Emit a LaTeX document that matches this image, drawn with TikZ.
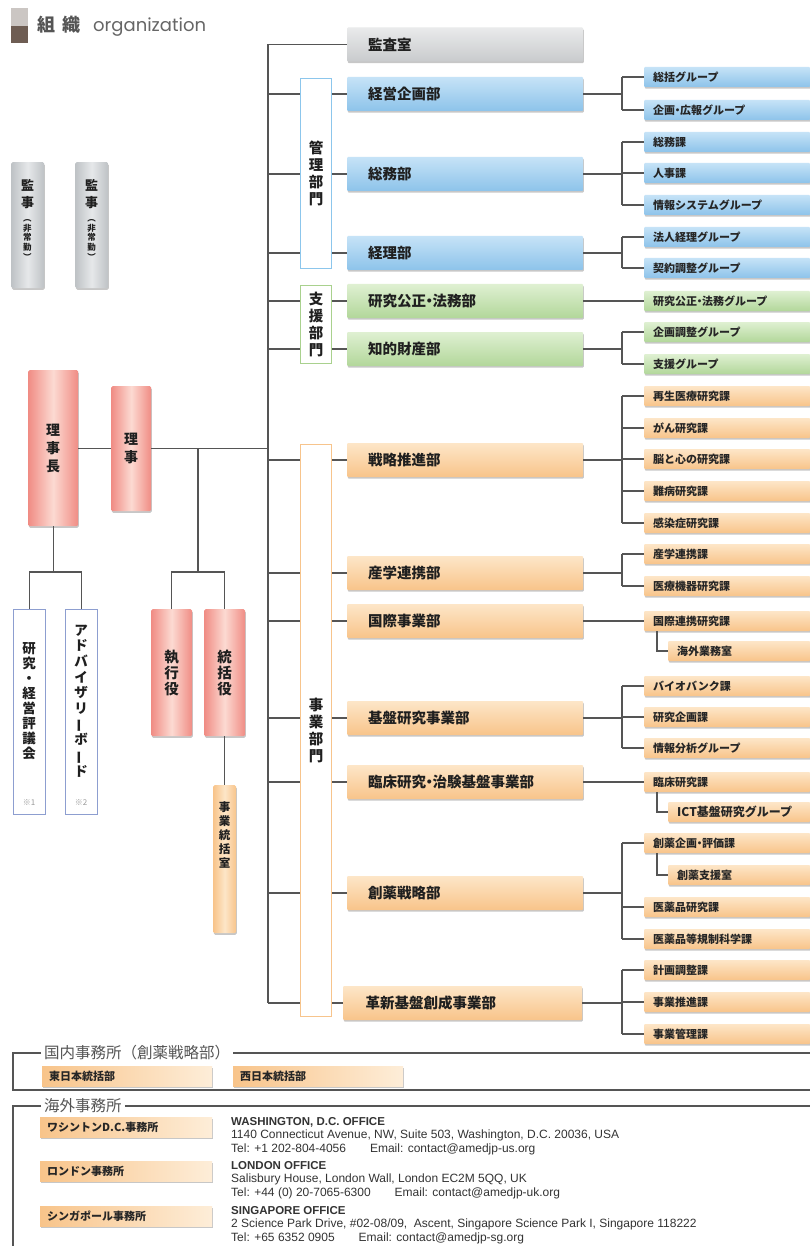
\documentclass[tikz,border=0pt]{standalone}
\usepackage{fontspec}
\usetikzlibrary{shadows}
\setmainfont{Noto Sans CJK JP}
\newfontfamily\jp{Noto Sans CJK JP}
\newfontfamily\geo{Poppins}
\newfontfamily\lat{Liberation Sans}
\newcommand\mdot{\kern-0.28em・\kern-0.28em}
\definecolor{linegray}{HTML}{555555}
\definecolor{bluetop}{HTML}{C6E3F7}
\definecolor{bluebot}{HTML}{8DC3EA}
\definecolor{greentop}{HTML}{DFF0D2}
\definecolor{greenbot}{HTML}{B2D79A}
\definecolor{orgtop}{HTML}{FDE6C8}
\definecolor{orgbot}{HTML}{F8C48A}
\definecolor{graytop}{HTML}{E9EAEB}
\definecolor{graybot}{HTML}{C9CBCD}
\definecolor{pinkedge}{HTML}{F08C84}
\definecolor{pinkmid}{HTML}{FCDAD2}
\definecolor{grayedge}{HTML}{BEC2C5}
\definecolor{graymid}{HTML}{E6E8EA}
\definecolor{bluelin}{HTML}{8CC6EC}
\definecolor{greenlin}{HTML}{A9D18E}
\definecolor{orglin}{HTML}{F7C48C}
\definecolor{purplin}{HTML}{8D9ED0}
\definecolor{txtgray}{HTML}{555555}
\definecolor{sqlight}{HTML}{CBC6C3}
\definecolor{sqdark}{HTML}{6E5D53}
\begin{document}
\begin{tikzpicture}[x=1pt,y=-1pt,
  conn/.style={draw=linegray, line width=1.2pt},
  frameline/.style={draw=linegray, line width=1.1pt},
  shad/.style={drop shadow={shadow xshift=0.6pt, shadow yshift=-1.6pt, opacity=0.22, fill=black}},
  dept/.style={shad, rounded corners=1pt, anchor=west, minimum height=34pt, text width=194pt, inner xsep=21pt, inner ysep=0pt, align=left, font=\jp\bfseries\fontsize{14.5}{16}\selectfont, text=black!88},
  grp/.style={shad, rounded corners=1pt, anchor=west, minimum height=20pt, text width=148pt, inner xsep=9pt, inner ysep=0pt, align=left, font=\jp\bfseries\fontsize{11}{12}\selectfont, text=black!85},
  subgrp/.style={grp, text width=124pt},
  bluefill/.style={top color=bluetop, bottom color=bluebot},
  greenfill/.style={top color=greentop, bottom color=greenbot},
  orgfill/.style={top color=orgtop, bottom color=orgbot},
  grayfill/.style={top color=graytop, bottom color=graybot},
  pillar/.style={shad, rounded corners=1.5pt, anchor=north west, inner sep=0pt, align=center, text=black!88},
  pinkp/.style={pillar, left color=pinkedge, right color=pinkedge, middle color=pinkmid},
  grayp/.style={pillar, left color=grayedge, right color=grayedge, middle color=graymid},
  orgp/.style={pillar, left color=orgbot, right color=orgbot, middle color=orgtop},
  outl/.style={anchor=north west, inner sep=0pt, fill=white, line width=1pt, align=center, text=black!88},
  vt/.style={inner sep=0pt, align=center, text=black!88},
  seclabel/.style={anchor=west, inner xsep=3pt, inner ysep=0pt, font=\jp\fontsize{15.5}{16}\selectfont, text=txtgray},
  offbox/.style={shad, anchor=west, minimum height=20pt, inner xsep=7pt, inner ysep=0pt, align=left, left color=orgbot, right color=orgtop!70!white, font=\jp\bfseries\fontsize{11}{12}\selectfont, text=black!85},
  addr/.style={anchor=north west, inner sep=0pt, align=left, font=\lat\fontsize{12}{13.7}\selectfont, text=black!80}
]
\useasboundingbox (0,0) rectangle (810,1246);
\fill[white] (0,0) rectangle (810,1246);

% header
\fill[sqlight] (11,8) rectangle (28,26);
\fill[sqdark] (11,26) rectangle (28,43);
\node[anchor=base west, inner sep=0pt, font=\jp\bfseries\fontsize{18}{19}\selectfont, text=txtgray] (hdrj) at (37,32) {組\hspace{7pt}織};
\node[anchor=base west, inner sep=0pt, font=\geo\fontsize{18}{20}\selectfont, text=black!60] (hdre) at (93,32) {organization};

% auditors
\node[grayp, minimum width=33pt, minimum height=126pt] (kanjiA) at (11,162) {};
\node[grayp, minimum width=33pt, minimum height=126pt] (kanjiB) at (75,162) {};
\node[vt, font=\jp\bfseries\fontsize{13}{16.5}\selectfont] (kanjiAt) at (27.5,194) {監\\事};
\node[vt, font=\jp\bfseries\fontsize{8.5}{9.6}\selectfont] (kanjiAs) at (27.5,240) {︵\\非\\常\\勤\\︶};
\node[vt, font=\jp\bfseries\fontsize{13}{16.5}\selectfont] (kanjiBt) at (91.5,194) {監\\事};
\node[vt, font=\jp\bfseries\fontsize{8.5}{9.6}\selectfont] (kanjiBs) at (91.5,240) {︵\\非\\常\\勤\\︶};

% executives
\node[pinkp, minimum width=50pt, minimum height=156pt, font=\jp\bfseries\fontsize{14}{18}\selectfont] (rijicho) at (28,370) {理\\事\\長};
\node[pinkp, minimum width=40pt, minimum height=125pt, font=\jp\bfseries\fontsize{14}{18}\selectfont] (riji) at (111,386) {理\\事};
\node[pinkp, minimum width=41pt, minimum height=127pt, font=\jp\bfseries\fontsize{14.5}{16}\selectfont] (shikko) at (151,609) {執\\行\\役};
\node[pinkp, minimum width=41pt, minimum height=127pt, font=\jp\bfseries\fontsize{14.5}{16}\selectfont] (tokatsu) at (204,609) {統\\括\\役};
\node[orgp, minimum width=23pt, minimum height=148pt] (shitsu) at (213,785) {};
\node[vt, font=\jp\bfseries\fontsize{11.5}{14}\selectfont] (shitsut) at (224.5,835) {事\\業\\統\\括\\室};

% councils
\node[outl, draw=purplin, minimum width=32pt, minimum height=205pt] (council) at (13,609) {};
\node[outl, draw=purplin, minimum width=32pt, minimum height=205pt] (advisory) at (65,609) {};
\node[vt, font=\jp\bfseries\fontsize{13.5}{15}\selectfont] (councilt) at (29,701) {研\\究\\・\\経\\営\\評\\議\\会};
\node[vt, font=\jp\bfseries\fontsize{13.5}{15.7}\selectfont] (advisoryt) at (81,701) {ア\\ド\\バ\\イ\\ザ\\リ\\\rotatebox[origin=c]{90}{ー}\\ボ\\\rotatebox[origin=c]{90}{ー}\\ド};
\node[vt, font=\jp\fontsize{8}{9}\selectfont, text=black!40] (note1) at (29,803) {※1};
\node[vt, font=\jp\fontsize{8}{9}\selectfont, text=black!40] (note2) at (81,803) {※2};

% divisions
\node[outl, draw=bluelin, minimum width=31pt, minimum height=190pt, font=\jp\bfseries\fontsize{14.5}{17}\selectfont] (kanri) at (300,78) {管\\理\\部\\門};
\node[outl, draw=greenlin, minimum width=31pt, minimum height=78pt, font=\jp\bfseries\fontsize{14.5}{17}\selectfont] (shien) at (300,285) {支\\援\\部\\門};
\node[outl, draw=orglin, minimum width=31pt, minimum height=572pt, font=\jp\bfseries\fontsize{14.5}{17}\selectfont] (jigyo) at (300,444) {事\\業\\部\\門};

% departments
\node[dept, grayfill] (kansa) at (347,44.5) {監査室};
\node[dept, bluefill] (keiei) at (347,94) {経営企画部};
\node[dept, bluefill] (somu) at (347,174) {総務部};
\node[dept, bluefill] (keiri) at (347,253) {経理部};
\node[dept, greenfill] (kosei) at (347,301) {研究公正\mdot 法務部};
\node[dept, greenfill] (chiteki) at (347,349) {知的財産部};
\node[dept, orgfill] (senryaku) at (347,460) {戦略推進部};
\node[dept, orgfill] (sangaku) at (347,573) {産学連携部};
\node[dept, orgfill] (kokusai) at (347,621) {国際事業部};
\node[dept, orgfill] (kiban) at (347,718) {基盤研究事業部};
\node[dept, orgfill] (rinsho) at (347,782) {臨床研究\mdot 治験基盤事業部};
\node[dept, orgfill] (souyaku) at (347,893) {創薬戦略部};
\node[dept, orgfill, inner xsep=22.5pt] (kakushin) at (343,1003) {革新基盤創成事業部};

% groups
\node[grp, bluefill] (soukatsu) at (644,77) {総括グループ};
\node[grp, bluefill] (kikakukoho) at (644,110) {企画\mdot 広報グループ};
\node[grp, bluefill] (somuka) at (644,142) {総務課};
\node[grp, bluefill] (jinji) at (644,173) {人事課};
\node[grp, bluefill] (johosys) at (644,205) {情報システムグループ};
\node[grp, bluefill] (hojin) at (644,237) {法人経理グループ};
\node[grp, bluefill] (keiyaku) at (644,268) {契約調整グループ};
\node[grp, greenfill] (koseiG) at (644,301) {研究公正\mdot 法務グループ};
\node[grp, greenfill] (kikakuchosei) at (644,332) {企画調整グループ};
\node[grp, greenfill] (shienG) at (644,364) {支援グループ};
\node[grp, orgfill] (saisei) at (644,396) {再生医療研究課};
\node[grp, orgfill] (gan) at (644,428) {がん研究課};
\node[grp, orgfill] (nou) at (644,459) {脳と心の研究課};
\node[grp, orgfill] (nanbyo) at (644,491) {難病研究課};
\node[grp, orgfill] (kansen) at (644,523) {感染症研究課};
\node[grp, orgfill] (sangakuka) at (644,554) {産学連携課};
\node[grp, orgfill] (iryokiki) at (644,586) {医療機器研究課};
\node[grp, orgfill] (kokusaiG) at (644,621) {国際連携研究課};
\node[subgrp, orgfill] (kaigai) at (668,651) {海外業務室};
\node[grp, orgfill] (biobank) at (644,686) {バイオバンク課};
\node[grp, orgfill] (kenkyukikaku) at (644,717) {研究企画課};
\node[grp, orgfill] (johobunseki) at (644,748) {情報分析グループ};
\node[grp, orgfill] (rinshoka) at (644,782) {臨床研究課};
\node[subgrp, orgfill, font=\jp\bfseries\fontsize{12}{13}\selectfont] (ict) at (668,812) {ICT基盤研究グループ};
\node[grp, orgfill] (sokikaku) at (644,843) {創薬企画\mdot 評価課};
\node[subgrp, orgfill] (soshien) at (668,875) {創薬支援室};
\node[grp, orgfill] (iyakuhin) at (644,907) {医薬品研究課};
\node[grp, orgfill] (kisei) at (644,939) {医薬品等規制科学課};
\node[grp, orgfill] (keikaku) at (644,970) {計画調整課};
\node[grp, orgfill] (suishin) at (644,1002) {事業推進課};
\node[grp, orgfill] (jkanri) at (644,1034) {事業管理課};

% helper coordinates
\coordinate (tTop) at (268,44.5);
\coordinate (tBot) at (268,1003);
\coordinate (bx) at (622,0);
\coordinate (sx) at (657,0);
\coordinate (brx) at (198,572);
\coordinate (brl) at (53,572);

% left connectors
\draw[conn] (rijicho.east) -- (rijicho.east -| riji.west);
\draw[conn] (riji.east |- rijicho.east) -- (rijicho.east -| tTop);
\draw[conn] (rijicho.east -| brx) -- (brx);
\draw[conn] (shikko.north) -- (shikko.north |- brx) -- (tokatsu.north |- brx) -- (tokatsu.north);
\draw[conn] (tokatsu.south) -- (shitsu.north);
\draw[conn] (rijicho.south) -- (rijicho.south |- brl);
\draw[conn] (council.north) -- (council.north |- brl) -- (advisory.north |- brl) -- (advisory.north);

% trunk
\draw[conn] (tTop) -- (tBot);
\draw[conn] (tTop) -- (kansa.west);
\foreach \d in {keiei,somu,keiri} {
  \draw[conn] (\d.west -| tTop) -- (\d.west -| kanri.west);
  \draw[conn] (\d.west -| kanri.east) -- (\d.west);
}
\foreach \d in {kosei,chiteki} {
  \draw[conn] (\d.west -| tTop) -- (\d.west -| shien.west);
  \draw[conn] (\d.west -| shien.east) -- (\d.west);
}
\foreach \d in {senryaku,sangaku,kokusai,kiban,rinsho,souyaku,kakushin} {
  \draw[conn] (\d.west -| tTop) -- (\d.west -| jigyo.west);
  \draw[conn] (\d.west -| jigyo.east) -- (\d.west);
}

% right brackets
\foreach \d/\a/\b in {keiei/soukatsu/kikakukoho, somu/somuka/johosys, keiri/hojin/keiyaku, chiteki/kikakuchosei/shienG, senryaku/saisei/kansen, sangaku/sangakuka/iryokiki, kiban/biobank/johobunseki, souyaku/sokikaku/kisei, kakushin/keikaku/jkanri} {
  \draw[conn] (\d.east) -- (\d.east -| bx);
  \draw[conn] (\a.west -| bx) -- (\b.west -| bx);
}
\foreach \g in {soukatsu,kikakukoho,somuka,jinji,johosys,hojin,keiyaku,kikakuchosei,shienG,saisei,gan,nou,nanbyo,kansen,sangakuka,iryokiki,biobank,kenkyukikaku,johobunseki,sokikaku,iyakuhin,kisei,keikaku,suishin,jkanri} {
  \draw[conn] (\g.west -| bx) -- (\g.west);
}
\draw[conn] (kosei.east) -- (koseiG.west);
\draw[conn] (kokusai.east) -- (kokusaiG.west);
\draw[conn] (rinsho.east) -- (rinshoka.west);
\draw[conn] (kokusaiG.south -| sx) -- (kaigai.west -| sx) -- (kaigai.west);
\draw[conn] (rinshoka.south -| sx) -- (ict.west -| sx) -- (ict.west);
\draw[conn] (sokikaku.south -| sx) -- (soshien.west -| sx) -- (soshien.west);

% domestic offices
\node[seclabel] (dom) at (41,1053) {国内事務所（創薬戦略部）};
\coordinate (domR) at (810,1053);
\coordinate (domBL) at (13,1090);
\coordinate (domBR) at (810,1090);
\draw[frameline] (dom.west) -- (dom.west -| domBL) -- (domBL) -- (domBR);
\draw[frameline] (dom.east) -- (domR);
\node[offbox, text width=156pt] (east) at (42,1076) {東日本統括部};
\node[offbox, text width=156pt] (west) at (233,1076) {西日本統括部};

% overseas offices
\node[seclabel] (ovs) at (41,1106) {海外事務所};
\coordinate (ovsR) at (810,1106);
\coordinate (ovsBL) at (13,1246);
\draw[frameline] (ovs.west) -- (ovs.west -| ovsBL) -- (ovsBL);
\draw[frameline] (ovs.east) -- (ovsR);
\node[offbox, text width=158pt] (wash) at (40,1127) {ワシントンD.C.事務所};
\node[offbox, text width=158pt] (lond) at (40,1171) {ロンドン事務所};
\node[offbox, text width=158pt] (sing) at (40,1216) {シンガポール事務所};
\node[addr] (washt) at (231,1117) {{\bfseries\fontsize{11.5}{13.7}\selectfont WASHINGTON, D.C. OFFICE}\\1140 Connecticut Avenue, NW, Suite 503, Washington, D.C. 20036, USA\\Tel: +1 202-804-4056\hspace{2em}Email: contact@amedjp-us.org};
\node[addr] (londt) at (231,1161) {{\bfseries\fontsize{11.5}{13.7}\selectfont LONDON OFFICE}\\Salisbury House, London Wall, London EC2M 5QQ, UK\\Tel: +44 (0) 20-7065-6300\hspace{2em}Email: contact@amedjp-uk.org};
\node[addr] (singt) at (231,1206) {{\bfseries\fontsize{11.5}{13.7}\selectfont SINGAPORE OFFICE}\\2 Science Park Drive, \#02-08/09, \ Ascent, Singapore Science Park I, Singapore 118222\\Tel: +65 6352 0905\hspace{2em}Email: contact@amedjp-sg.org};
\end{tikzpicture}
\end{document}
